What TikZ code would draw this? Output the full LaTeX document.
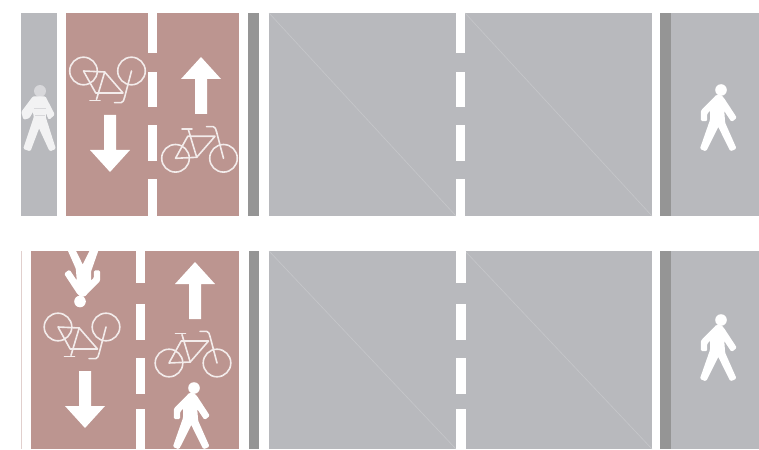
\documentclass[tikz,border=0pt]{standalone}
\definecolor{road}{HTML}{B8B9BD}
\definecolor{lane}{HTML}{BC9590}
\definecolor{kerb}{HTML}{959595}
\definecolor{faint}{HTML}{C6C7CA}
\definecolor{paleline}{HTML}{F3ECEB}
\definecolor{palebody}{HTML}{F2F2F3}
\definecolor{palehead}{HTML}{D8D8DB}
\tikzset{
  x=1pt,y=-1pt,
  bikeline/.style={paleline,line width=1.6pt,line cap=round,line join=round},
  walker/.pic={
    \fill[white] (0,0) circle (5.8);
    \fill[white,draw=white,line width=1.4pt,line join=round,rounded corners=1pt]
      (-4.3,5.5) -- (-19.5,21) -- (-19.5,30.5) -- (-14.5,30.5) -- (-14.5,23.5) -- (-10.3,19)
      -- (-10.3,30) -- (-20.3,58.5) -- (-15.3,60.5) -- (-2.7,35.5) -- (9.7,60.5) -- (14.7,58.3)
      -- (3.5,33) -- (2.3,18.3) -- (10.7,31) -- (15,27.7) -- (2.3,8.3) -- (-.3,5.7) -- cycle;
  },
  widewalker/.pic={
    \fill[palehead] (0,0) circle (6);
    \fill[palebody,draw=palebody,line width=1.4pt,line join=round,rounded corners=1pt]
      (-6.7,6) -- (-18,21) -- (-16,28) -- (-11,26.5) -- (-6.7,19) -- (-5.5,26)
      -- (-16,57.5) -- (-10,59.5) -- (-1,35.7) -- (10,59.5) -- (15,57.5) -- (5,26)
      -- (5.7,19) -- (9,28) -- (14,23.5) -- (5,6) -- cycle;
    \draw[palehead,line width=.5pt] (-6,17) -- (6,17);
    \draw[palehead,line width=.5pt] (-5,24) -- (5,24);
  },
  bicycle/.pic={
    \draw[bikeline] (-24,0) circle (13.8);
    \draw[bikeline] (24,0) circle (13.8);
    \draw[bikeline] (-11.8,-22) -- (15.5,-22) -- (-2.8,-1) -- (-24,0) -- cycle;
    \draw[bikeline] (-11,-28.3) -- (-2.8,-1);
    \draw[bikeline] (17,-26.7) -- (24,0);
    \draw[bikeline] (-17.5,-29.5) -- (-7.5,-29.5);
    \draw[bikeline] (7,-31.6) -- (13.8,-31.6) .. controls (15.5,-31.6) and (16.5,-29) .. (17,-26.7);
  },
  uparrow/.pic={
    \fill[white] (0,0) -- (20,22) -- (6,22) -- (6,57) -- (-6,57) -- (-6,22) -- (-20,22) -- cycle;
  }
}
\begin{document}
\begin{tikzpicture}
\useasboundingbox (0,0) rectangle (759,449);
\fill[white] (0,0) rectangle (759,449);
% ---------- top panel
\fill[road] (21,13) rectangle (57,216);
\fill[white] (57,13) rectangle (66,216);
\fill[lane] (66,13) rectangle (239,216);
\fill[white] (239,13) rectangle (248,216);
\fill[kerb] (248,13) rectangle (259,216);
\fill[white] (259,13) rectangle (269,216);
\fill[road] (269,13) rectangle (652,216);
\fill[white] (652,13) rectangle (660,216);
\fill[kerb] (660,13) rectangle (671,216);
\fill[road] (671,13) rectangle (759,216);
\draw[faint,line width=.6pt] (269,13) -- (456,216);
\draw[faint,line width=.6pt] (465,13) -- (652,216);
\foreach \x in {148,456}
  \foreach \a/\b in {13/53,72/107,125/161,179/216}
    \fill[white] (\x,\a) rectangle (\x+9,\b);
\path (40,91) pic {widewalker};
\path (721,90) pic {walker};
\path (107.5,71) pic[yscale=-1] {bicycle};
\path (199.5,158.3) pic {bicycle};
\path (201,57) pic {uparrow};
\path (110,172) pic[yscale=-1] {uparrow};
% ---------- bottom panel
\fill[lane!45!white] (21.3,251) rectangle (240,449);
\fill[white] (22,251) rectangle (31,449);
\fill[lane] (31,251) rectangle (239,449);
\fill[white] (239,251) rectangle (248,449);
\fill[kerb] (249,251) rectangle (259,449);
\fill[white] (248,251) rectangle (249,449);
\fill[white] (259,251) rectangle (269,449);
\fill[road] (269,251) rectangle (652,449);
\fill[white] (652,251) rectangle (660,449);
\fill[kerb] (660,251) rectangle (671,449);
\fill[road] (671,251) rectangle (759,449);
\draw[faint,line width=.6pt] (269,251) -- (456,449);
\draw[faint,line width=.6pt] (465,251) -- (652,449);
\foreach \x in {135.5,456}
  \foreach \a/\b in {251/283,304/340,358/394,409/449}
    \fill[white] (\x,\a) rectangle (\x+9.5,\b);
\path (721,320) pic {walker};
\begin{scope}
  \clip (21,251) rectangle (239,449);
  \path (194,388) pic {walker};
  \path (80,301.5) pic[rotate=180] {walker};
\end{scope}
\path (82,327) pic[yscale=-1] {bicycle};
\path (193,363) pic {bicycle};
\path (195,262) pic {uparrow};
\path (85,428) pic[yscale=-1] {uparrow};
\end{tikzpicture}
\end{document}
